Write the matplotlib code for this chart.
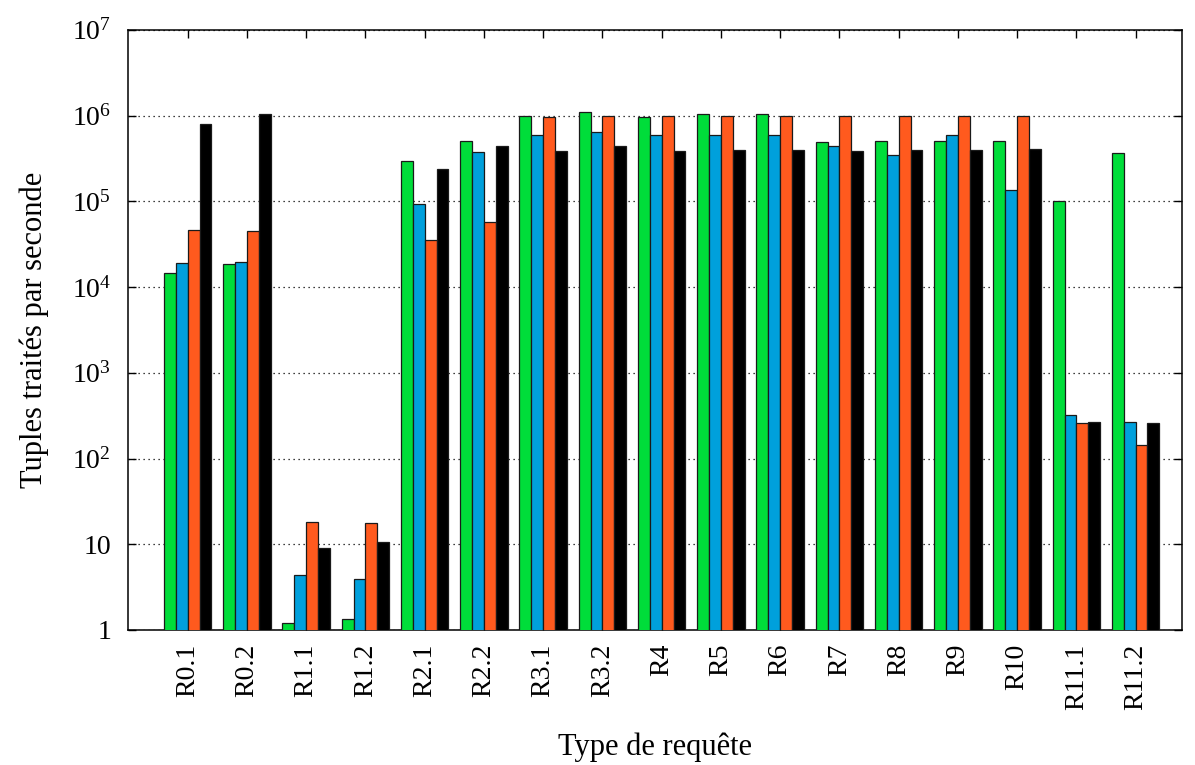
import numpy as np
import matplotlib
matplotlib.use("Agg")
import matplotlib.pyplot as plt

plt.rcParams["font.family"] = ["Liberation Serif", "DejaVu Serif"]
plt.rcParams["mathtext.fontset"] = "custom"
plt.rcParams["mathtext.rm"] = "Liberation Serif"
plt.rcParams["mathtext.it"] = "Liberation Serif:italic"

# Data
queries = ["R0.1", "R0.2", "R1.1", "R1.2", "R2.1", "R2.2", "R3.1", "R3.2",
           "R4", "R5", "R6", "R7", "R8", "R9", "R10", "R11.1", "R11.2"]

green = [1.47e4, 1.87e4, 1.21, 1.36, 2.96e5, 5.0e5, 9.9e5, 1.09e6,
         9.7e5, 1.04e6, 1.05e6, 4.9e5, 5.0e5, 5.1e5, 5.05e5, 1.01e5, 3.7e5]
blue = [1.9e4, 1.97e4, 4.4, 3.94, 9.4e4, 3.75e5, 6.0e5, 6.35e5,
        5.9e5, 5.9e5, 5.9e5, 4.4e5, 3.5e5, 5.9e5, 1.35e5, 320, 265]
orange = [4.6e4, 4.5e4, 18.4, 17.6, 3.5e4, 5.8e4, 9.7e5, 1.0e6,
          9.9e5, 1.0e6, 1.0e6, 1.0e6, 1.0e6, 1.0e6, 1.0e6, 258, 144]
black = [8.0e5, 1.03e6, 9.1, 10.6, 2.4e5, 4.36e5, 3.9e5, 4.4e5,
         3.9e5, 4.0e5, 4.0e5, 3.9e5, 4.0e5, 3.95e5, 4.06e5, 269, 258]

series = [green, blue, orange, black]
colors = ["#00DD3A", "#00A0DC", "#FF5A1E", "#000000"]

fig = plt.figure(figsize=(11.95, 7.65), dpi=100)
ax = fig.add_axes([0.107, 0.1765, 0.882, 0.7845])

x = np.arange(len(queries))
w = 0.2
for i, (vals, col) in enumerate(zip(series, colors)):
    ax.bar(x + (i - 1.5) * w, vals, width=w, color=col,
           edgecolor="#1a1a1a", linewidth=0.9, zorder=3)

ax.set_yscale("log")
ax.set_ylim(1, 1e7)
ax.set_xlim(-1.01, 16.78)

yt = [1, 10, 1e2, 1e3, 1e4, 1e5, 1e6, 1e7]
ylabels = ["1", "10", r"$10^{2}$", r"$10^{3}$", r"$10^{4}$",
           r"$10^{5}$", r"$10^{6}$", r"$10^{7}$"]
ax.set_yticks(yt)
ax.set_yticklabels(ylabels)
ax.yaxis.set_minor_locator(matplotlib.ticker.NullLocator())
ax.set_xticks(x)
ax.set_xticklabels(queries, rotation=90)

ax.tick_params(axis="both", direction="in", top=True, right=True,
               length=6, width=1, labelsize=20, pad=12)
ax.tick_params(axis="x", pad=10)
ax.grid(axis="y", linestyle=(0, (1, 3)), color="black", linewidth=0.9, zorder=0)

for s in ax.spines.values():
    s.set_linewidth(1.1)

ax.set_xlabel("Type de requête", fontsize=22, labelpad=16)
ax.set_ylabel("Tuples traités par seconde", fontsize=22, labelpad=16)

fig.savefig("out.png", dpi=100)
